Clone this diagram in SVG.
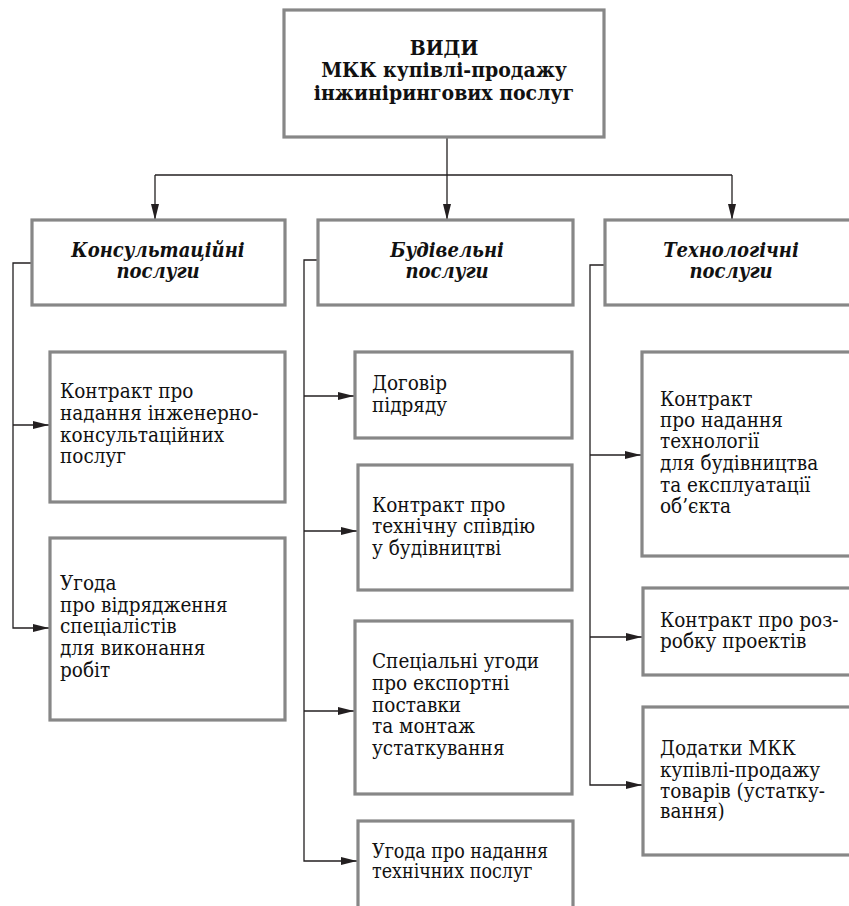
<svg xmlns="http://www.w3.org/2000/svg" width="849" height="906" viewBox="0 0 849 906">
  <style>
    .box { fill: #ffffff; stroke: #878787; stroke-width: 3.2; }
    .wire { fill: none; stroke: #231f20; stroke-width: 1.3; }
    .arrow { marker-end: url(#head); }
    text { font-family: 'DejaVu Serif', 'Liberation Serif', serif; font-stretch: condensed; fill: #111; }
    .title { font-weight: bold; font-size: 21px; text-anchor: middle; }
    .cat { font-weight: bold; font-style: italic; font-size: 20px; text-anchor: middle; }
    .item { font-size: 20.5px; }
    .small { font-size: 19.5px; }
  </style>
  <defs>
    <marker id="head" viewBox="0 0 16 8" refX="16" refY="4" markerWidth="16" markerHeight="8" markerUnits="userSpaceOnUse" orient="auto">
      <path d="M0,0 L16,4 L0,8 z" fill="#231f20"/>
    </marker>
  </defs>
  <rect width="849" height="906" fill="#ffffff"/>

  <!-- connectors -->
  <g id="connectors">
    <path class="wire" d="M447 137 V175"/>
    <path class="wire" d="M155 175 H732"/>
    <path class="wire arrow" d="M155 175 V220"/>
    <path class="wire arrow" d="M447 175 V220"/>
    <path class="wire arrow" d="M732 175 V220"/>
    <!-- consulting branch -->
    <path class="wire arrow" d="M32 263 H13 V628 H49"/>
    <path class="wire arrow" d="M13 425 H49"/>
    <!-- construction branch -->
    <path class="wire arrow" d="M318 260 H304 V861 H357"/>
    <path class="wire arrow" d="M304 396 H354"/>
    <path class="wire arrow" d="M304 531 H357"/>
    <path class="wire arrow" d="M304 711 H354"/>
    <!-- technology branch -->
    <path class="wire arrow" d="M605 265 H590 V785 H642"/>
    <path class="wire arrow" d="M590 455 H641"/>
    <path class="wire arrow" d="M590 637 H642"/>
  </g>

  <g id="root">
    <rect class="box" x="284" y="10" width="320" height="127"/>
    <text class="title" x="444" y="55">ВИДИ<tspan x="444" dy="22">МКК купівлі-продажу</tspan><tspan x="444" dy="23">інжинірингових послуг</tspan></text>
  </g>

  <g id="consulting">
    <rect class="box" x="32" y="220" width="253" height="85"/>
    <text class="cat" x="158" y="257">Консультаційні<tspan x="158" dy="21">послуги</tspan></text>
  </g>
  <g id="construction">
    <rect class="box" x="318" y="220" width="255" height="85"/>
    <text class="cat" x="447" y="257">Будівельні<tspan x="447" dy="21">послуги</tspan></text>
  </g>
  <g id="technology">
    <rect class="box" x="605" y="220" width="270" height="85"/>
    <text class="cat" x="731" y="257">Технологічні<tspan x="731" dy="21">послуги</tspan></text>
  </g>

  <g id="consulting-contract">
    <rect class="box" x="50" y="352" width="235" height="150"/>
    <text class="item" x="60" y="398">Контракт про<tspan x="60" dy="22">надання інженерно-</tspan><tspan x="60" dy="22">консультаційних</tspan><tspan x="60" dy="21">послуг</tspan></text>
  </g>
  <g id="secondment">
    <rect class="box" x="50" y="538" width="235" height="182"/>
    <text class="item" x="60" y="590">Угода<tspan x="60" dy="22">про відрядження</tspan><tspan x="60" dy="21">спеціалістів</tspan><tspan x="60" dy="22">для виконання</tspan><tspan x="60" dy="22">робіт</tspan></text>
  </g>

  <g id="subcontract">
    <rect class="box" x="355" y="352" width="217" height="86"/>
    <text class="item" x="372" y="390">Договір<tspan x="372" dy="22">підряду</tspan></text>
  </g>
  <g id="supervision">
    <rect class="box" x="358" y="465" width="214" height="125"/>
    <text class="item" x="372" y="512">Контракт про<tspan x="372" dy="21">технічну співдію</tspan><tspan x="372" dy="22">у будівництві</tspan></text>
  </g>
  <g id="export-supply">
    <rect class="box" x="355" y="621" width="217" height="173"/>
    <text class="item" x="372" y="668">Спеціальні угоди<tspan x="372" dy="22">про експортні</tspan><tspan x="372" dy="22">поставки</tspan><tspan x="372" dy="21">та монтаж</tspan><tspan x="372" dy="22">устаткування</tspan></text>
  </g>
  <g id="technical-services">
    <rect class="box" x="358" y="821" width="215" height="100"/>
    <text class="item small" x="372" y="858">Угода про надання<tspan x="372" dy="20">технічних послуг</tspan></text>
  </g>

  <g id="technology-contract">
    <rect class="box" x="642" y="352" width="230" height="204"/>
    <text class="item" x="660" y="406">Контракт<tspan x="660" dy="21">про надання</tspan><tspan x="660" dy="21">технології</tspan><tspan x="660" dy="22">для будівництва</tspan><tspan x="660" dy="22">та експлуатації</tspan><tspan x="660" dy="21">об’єкта</tspan></text>
  </g>
  <g id="design-contract">
    <rect class="box" x="643" y="588" width="230" height="87"/>
    <text class="item" x="660" y="627">Контракт про роз-<tspan x="660" dy="21">робку проектів</tspan></text>
  </g>
  <g id="equipment-annexes">
    <rect class="box" x="643" y="707" width="230" height="148"/>
    <text class="item" x="660" y="755">Додатки МКК<tspan x="660" dy="22">купівлі-продажу</tspan><tspan x="660" dy="21">товарів (устатку-</tspan><tspan x="660" dy="20">вання)</tspan></text>
  </g>
</svg>
